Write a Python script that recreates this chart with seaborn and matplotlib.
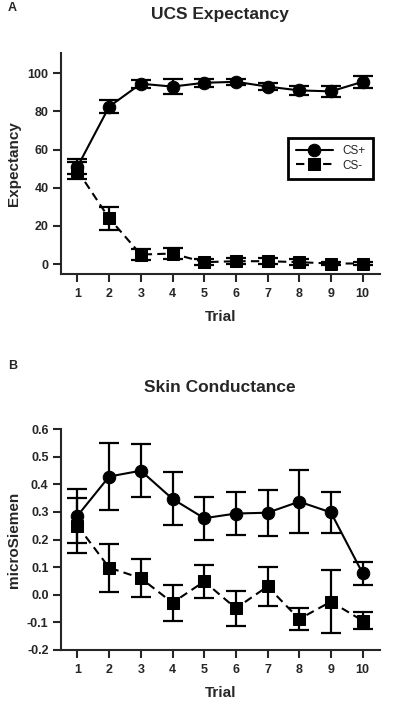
import numpy as np
import pandas as pd
import matplotlib
matplotlib.use("Agg")
import matplotlib.pyplot as plt
import seaborn as sns

# data (mean and SEM per trial)
trials = np.arange(1, 11)
conds = ["CS+", "CS-"]

ucs_csp = [51, 82.5, 94.5, 93, 95, 95.5, 93, 91, 90.5, 95.5]
ucs_csp_sem = [4, 3.5, 2, 4, 2, 1.5, 2, 2.5, 3, 3]
ucs_csm = [49, 24, 5, 5.5, 1, 1.5, 1.5, 1, 0.3, 0.3]
ucs_csm_sem = [4.5, 6, 3, 3, 1.5, 1.5, 1.5, 1.5, 1, 1]

scr_csp = [0.286, 0.428, 0.449, 0.347, 0.277, 0.294, 0.297, 0.337, 0.298, 0.078]
scr_csp_sem = [0.098, 0.12, 0.095, 0.096, 0.078, 0.077, 0.083, 0.115, 0.074, 0.042]
scr_csm = [0.25, 0.098, 0.06, -0.029, 0.048, -0.049, 0.03, -0.088, -0.025, -0.094]
scr_csm_sem = [0.1, 0.087, 0.068, 0.066, 0.058, 0.063, 0.07, 0.039, 0.114, 0.03]

sns.set_style("ticks")
plt.rcParams['font.family'] = ['Liberation Sans', 'DejaVu Sans']
plt.rcParams['font.weight'] = 'bold'
plt.rcParams['axes.labelweight'] = 'bold'

W, H = 397, 705
fig = plt.figure(figsize=(W / 100, H / 100), dpi=100)


def px_axes(l, t, r, b):
    return fig.add_axes([l / W, 1 - b / H, (r - l) / W, (b - t) / H])


def make_df(a, a_sem, b, b_sem):
    return pd.DataFrame({
        "Trial": np.concatenate([trials, trials]),
        "value": np.concatenate([a, b]),
        "sem": np.concatenate([a_sem, b_sem]),
        "cond": np.repeat(conds, len(trials)),
    })


def panel(ax, df, ylim, yticks, ylabel, fmt, legend):
    for c in conds:
        d = df[df.cond == c]
        ax.errorbar(d["Trial"], d["value"], yerr=d["sem"], fmt='none',
                    ecolor='black', elinewidth=1.6, capsize=7, capthick=1.6, zorder=2)
    sns.lineplot(data=df, x="Trial", y="value", style="cond", style_order=conds,
                 markers={"CS+": "o", "CS-": "s"},
                 dashes={"CS+": "", "CS-": (4, 2.5)},
                 color="black", lw=1.5, markersize=9, markeredgecolor='black',
                 errorbar=None, ax=ax, legend=legend, zorder=3)
    ax.set_xlim(0.48, 10.55)
    ax.set_ylim(*ylim)
    ax.set_xticks(trials)
    ax.set_yticks(yticks)
    ax.set_yticklabels([fmt.format(v) for v in yticks])
    ax.tick_params(axis='both', labelsize=9, width=1.5, length=6, direction='out')
    ax.tick_params(axis='x', pad=4)
    ax.tick_params(axis='y', pad=3)
    for s in ['left', 'bottom']:
        ax.spines[s].set_linewidth(1.5)
    sns.despine(ax=ax)
    ax.set_xlabel("Trial", fontsize=11, fontweight='bold')
    ax.set_ylabel(ylabel, fontsize=11, fontweight='bold')
    ax.xaxis.set_label_coords(0.5, -36 / 221)
    ax.yaxis.set_label_coords(-40 / 319, 0.5)


ax1 = px_axes(61, 53, 380, 274)
panel(ax1, make_df(ucs_csp, ucs_csp_sem, ucs_csm, ucs_csm_sem),
      (-5.2, 110.6), [0, 20, 40, 60, 80, 100], "Expectancy", "{:.0f}", True)
leg = ax1.legend(loc='upper right', bbox_to_anchor=(0.978, 0.615), borderaxespad=0,
                 fancybox=False, edgecolor='black', framealpha=1,
                 prop={'weight': 'normal', 'size': 8.5}, handlelength=3.2,
                 borderpad=0.6, labelspacing=0.2, handletextpad=0.8)
leg.get_frame().set_linewidth(2)
leg.set_title(None)

ax2 = px_axes(61, 429, 380, 650)
panel(ax2, make_df(scr_csp, scr_csp_sem, scr_csm, scr_csm_sem),
      (-0.2, 0.6), [-0.2, -0.1, 0.0, 0.1, 0.2, 0.3, 0.4, 0.5, 0.6], "microSiemen",
      "{:.1f}", False)

fig.text(220 / W, 1 - 15 / H, "UCS Expectancy", ha='center', va='center',
         fontsize=12.5, fontweight='bold')
fig.text(220 / W, 1 - 388 / H, "Skin Conductance", ha='center', va='center',
         fontsize=12.5, fontweight='bold')
fig.text(8 / W, 1 - 8 / H, "A", ha='left', va='center', fontsize=9, fontweight='bold')
fig.text(8 / W, 1 - 366 / H, "B", ha='left', va='center', fontsize=9, fontweight='bold')

fig.savefig("out.png", dpi=100)
